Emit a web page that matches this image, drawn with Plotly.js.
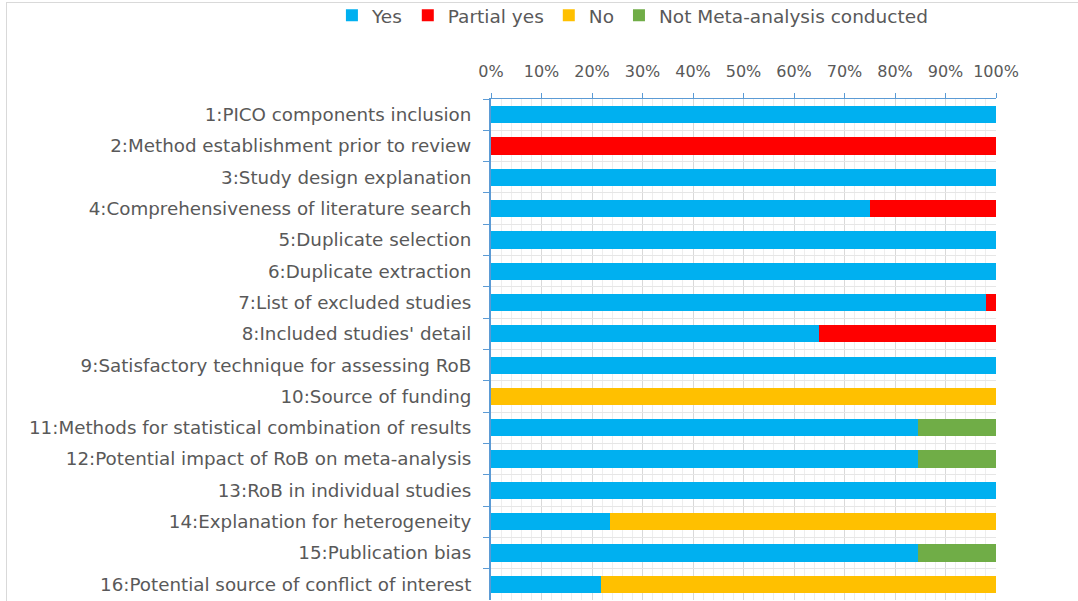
<!DOCTYPE html>
<html>
<head>
<meta charset="utf-8">
<script src="https://cdn.plot.ly/plotly-3.0.1.min.js"></script>
<style>
html,body{margin:0;padding:0;background:#fff;}
#frame{position:absolute;left:6px;top:2px;width:1080px;height:600px;border:1px solid #d9d9d9;box-sizing:border-box;}
#chart{position:absolute;left:0;top:0;width:1078px;height:601px;}
</style>
</head>
<body>
<div id="frame"></div>
<div id="chart"></div>
<script>
var categories = [
  "1:PICO components inclusion",
  "2:Method establishment prior to review",
  "3:Study design explanation",
  "4:Comprehensiveness of literature search",
  "5:Duplicate selection",
  "6:Duplicate extraction",
  "7:List of excluded studies",
  "8:Included studies' detail",
  "9:Satisfactory technique for assessing RoB",
  "10:Source of funding",
  "11:Methods for statistical combination of results",
  "12:Potential impact of RoB on meta-analysis",
  "13:RoB in individual studies",
  "14:Explanation for heterogeneity",
  "15:Publication bias",
  "16:Potential source of conflict of interest"
];
var yesVals        = [1, 0, 1, 0.75, 1, 1, 0.98, 0.65, 1, 0, 0.845, 0.845, 1, 0.235, 0.845, 0.217];
var partialYesVals = [0, 1, 0, 0.25, 0, 0, 0.02, 0.35, 0, 0, 0, 0, 0, 0, 0, 0];
var noVals         = [0, 0, 0, 0, 0, 0, 0, 0, 0, 1, 0, 0, 0, 0.765, 0, 0.783];
var notMetaVals    = [0, 0, 0, 0, 0, 0, 0, 0, 0, 0, 0.155, 0.155, 0, 0, 0.155, 0];
var seriesNames = ["Yes", "Partial yes", "No", "Not Meta-analysis conducted"];
var seriesColors = ["#00b0f0", "#ff0000", "#ffc000", "#70ad47"];
var xTickVals = [0, 0.1, 0.2, 0.3, 0.4, 0.5, 0.6, 0.7, 0.8, 0.9, 1];

var allVals = [yesVals, partialYesVals, noVals, notMetaVals];
var traces = allVals.map(function(v, i){
  return {
    type: 'bar', orientation: 'h',
    x: v, y: categories, name: seriesNames[i],
    marker: {color: seriesColors[i], line: {width: 0}},
    hoverinfo: 'x+name'
  };
});

var font = "'DejaVu Sans', sans-serif";
var layout = {
  width: 1078, height: 601,
  paper_bgcolor: 'rgba(0,0,0,0)', plot_bgcolor: 'rgba(0,0,0,0)',
  barmode: 'stack', bargap: 0.45,
  margin: {l: 491, r: 82, t: 99, b: 1, pad: 0, autoexpand: false},
  font: {family: font, color: '#595959', size: 17},
  showlegend: true,
  legend: {orientation: 'h', xref: 'paper', x: -0.315, xanchor: 'left', y: 1.166, yanchor: 'middle',
           yref: 'paper', font: {size: 18.5, color: '#595959'}, itemwidth: 30, traceorder: 'normal'},
  xaxis: {
    side: 'top', range: [0, 1], tickvals: xTickVals, tickformat: '.0%',
    showgrid: true, gridcolor: '#d9d9d9', gridwidth: 1,
    minor: {dtick: 0.02, tick0: 0, showgrid: true, gridcolor: '#eeeeee', gridwidth: 1},
    showline: true, linecolor: '#5b9bd5', linewidth: 1,
    ticks: 'outside', ticklen: 5, tickcolor: '#5b9bd5',
    ticklabelstandoff: 10,
    tickfont: {size: 16, color: '#595959'}, zeroline: false, fixedrange: true
  },
  yaxis: {
    type: 'category', autorange: 'reversed', tickson: 'boundaries',
    showgrid: true, gridcolor: '#e6e6e6',
    showline: true, linecolor: '#5b9bd5', linewidth: 2,
    ticks: 'outside', ticklen: 6, tickcolor: '#5b9bd5',
    ticklabelstandoff: 14,
    tickfont: {size: 18.3, color: '#595959'}, fixedrange: true
  }
};
Plotly.newPlot('chart', traces, layout, {displayModeBar: false, staticPlot: true});
</script>
</body>
</html>
